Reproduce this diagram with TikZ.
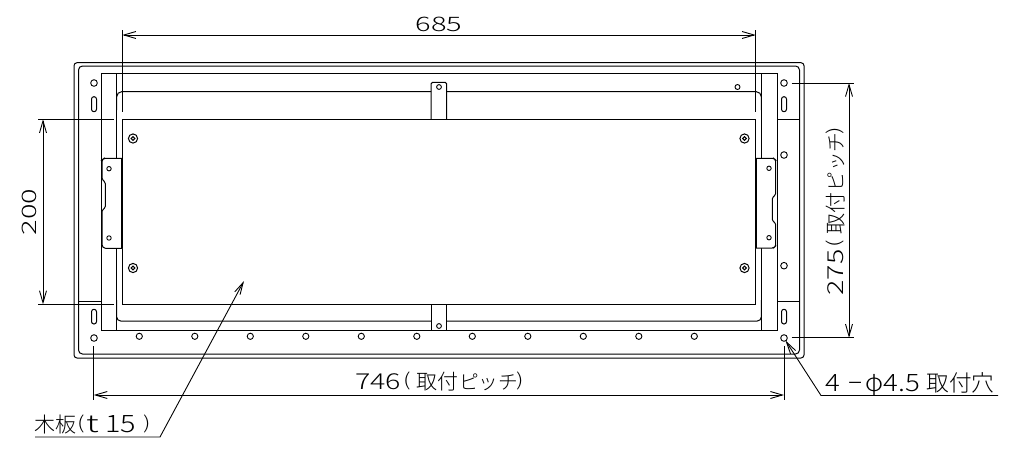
\documentclass[tikz,border=0pt]{standalone}
\usepackage{fontspec}
\usepackage{graphicx}
\usetikzlibrary{arrows.meta}
\newfontfamily\jp{Noto Sans CJK JP Light}
\newcommand{\fs}[1]{\fontsize{#1pt}{#1pt}\selectfont}
\newcommand{\pc}[2]{\makebox[#1pt][l]{#2}}
\newcommand{\digs}[3]{\fs{#1}\scalebox{#2}[1]{#3}}
\newcommand{\rw}[2]{\resizebox{#1pt}{!}{#2}}
\newcommand{\lp}{\raisebox{2.5pt}{\resizebox*{7.5pt}{18pt}{(}}}
\newcommand{\rp}{\raisebox{2.5pt}{\resizebox*{7.5pt}{18pt}{)}}}
\newcommand{\pitchlab}[1]{{\jp\pc{48}{\digs{22}{1.3}{#1}}\pc{13}{\lp}\pc{43}{\rw{42}{取付}}\pc{57}{\rw{59}{ピッチ}}\pc{8}{\rp}}}
\tikzset{
  part/.style={line width=1pt,black},
  dimen/.style={line width=.9pt,black,{Straight Barb[length=12pt,width=7pt]}-{Straight Barb[length=12pt,width=7pt]}},
  ext/.style={line width=.9pt,black},
  leader/.style={line width=.9pt,black,-{Straight Barb[length=12pt,width=6pt]}},
  lab/.style={inner sep=0pt,outer sep=0pt},
  hole/.style={line width=.9pt,black,fill=white}
}
\begin{document}
\begin{tikzpicture}[x=1pt,y=-1pt]
\useasboundingbox (0,0) rectangle (1017,450);
\fill[white] (0,0) rectangle (1017,450);
% outer frames
\draw[part,rounded corners=3pt] (74,62.7) rectangle (804,358);
\draw[part,rounded corners=4pt] (78.5,66) rectangle (799.5,354);
% inner frame
\draw[part] (101,73.7) rectangle (777,330.7);
\draw[part] (116.7,73.7) -- (116.7,158.3) (116.7,248.3) -- (116.7,330.7);
\draw[part] (761.3,73.7) -- (761.3,158.3) (761.3,248) -- (761.3,330.7);
% rounded inner plate edge
\draw[part,rounded corners=5pt] (431,91.7) -- (116.7,91.7) -- (116.7,110);
\draw[part,rounded corners=5pt] (446.7,91.7) -- (761.3,91.7) -- (761.3,110);
\draw[part,rounded corners=4pt] (116.7,300) -- (116.7,321) -- (431,321);
\draw[part,rounded corners=4pt] (761.3,300) -- (761.3,321) -- (446.7,321);
% wood board
\draw[part] (122.3,119.3) rectangle (755.7,304.3);
% side cross lines
\draw[part] (78.5,301.7) -- (101,301.7) (777,119.3) -- (799.5,119.3) (777,301.7) -- (799.5,301.7);
% top and bottom brackets
\draw[part,rounded corners=1.5pt] (431,119.3) -- (431,82.3) -- (446.7,82.3) -- (446.7,119.3);
\draw[part] (431,304.3) -- (431,330.7) -- (446.7,330.7) -- (446.7,304.3);
\draw[hole] (439,87) circle (2.4);
\draw[hole] (439,326) circle (2.4);
% left hinge
\draw[part,fill=white,rounded corners=1.5pt] (122.3,158.3) -- (104,158.3) -- (102,160) -- (102,179.5) -- (105.3,182) -- (105.3,208) -- (102,210) -- (102,246) -- (104,248.3) -- (122.3,248.3);
\draw[line width=1.6pt] (121.8,158.3) -- (121.8,248.3);
\draw[hole] (109,168.7) circle (2.2);
\draw[hole] (109,238) circle (2.2);
% right hinge
\draw[part,fill=white,rounded corners=1.5pt] (755.7,158.3) -- (773.7,158.3) -- (775.7,160) -- (775.7,195) -- (772.3,197.3) -- (772.3,221) -- (775.7,223) -- (775.7,246) -- (773.7,248) -- (755.7,248);
\draw[line width=1.6pt] (756.2,158.3) -- (756.2,248);
\draw[hole] (769,168.3) circle (2.2);
\draw[hole] (769,237.7) circle (2.2);
% corner holes and slots
\foreach \x in {94,784}{
  \draw[hole] (\x,83) circle (3.3);
  \draw[hole] (\x,338) circle (3.3);
  \draw[part,rounded corners=2.4pt] (\x-2.5,96.7) rectangle (\x+2.5,111.7);
  \draw[part,rounded corners=2.4pt] (\x-2.5,309.3) rectangle (\x+2.5,324);
}
\draw[hole] (784,155) circle (3.3);
\draw[hole] (784,265.7) circle (3.3);
\draw[hole] (737.5,87) circle (2.5);
% bottom row holes
\foreach \x in {139.3,194.8,250.3,305.8,361.3,416.8,472.3,527.8,583.3,638.8,694.3}
  \draw[hole] (\x,336.3) circle (3.1);
% board screws
\foreach \x in {133,744.5} \foreach \y in {138.5,268}{
  \draw[part] (\x,\y) circle (4.6);
  \draw[part] (\x,\y) circle (1.9);
}
% dimension 685
\coordinate (a1) at (122.3,30); \coordinate (a2) at (122.3,111.7);
\coordinate (b1) at (755.7,30); \coordinate (b2) at (755.7,111.7);
\draw[ext] (a1) -- (a2) (b1) -- (b2);
\draw[dimen] (122.3,35) -- (755.7,35);
\node[lab,anchor=base] (t685) at (439,31.5) {\jp\digs{20}{1.45}{685}};
% dimension 200
\coordinate (c1) at (38,119.3); \coordinate (c2) at (114,119.3);
\coordinate (d1) at (38,304.3); \coordinate (d2) at (114,304.3);
\draw[ext] (c1) -- (c2) (d1) -- (d2);
\draw[dimen] (43,119.3) -- (43,304.3);
\node[lab,rotate=90,anchor=base] (t200) at (36.5,212) {\jp\digs{20}{1.45}{200}};
% dimension 275
\coordinate (e1) at (791.7,83); \coordinate (e2) at (853.5,83);
\coordinate (f1) at (791.7,337.7); \coordinate (f2) at (853.5,337.7);
\draw[ext] (e1) -- (e2) (f1) -- (f2);
\draw[dimen] (849,83) -- (849,337.7);
\node[lab,rotate=90,anchor=base west] (t275) at (843,295.5) {\pitchlab{275}};
% dimension 746
\coordinate (g1) at (93.7,346); \coordinate (g2) at (93.7,400);
\coordinate (h1) at (784,346); \coordinate (h2) at (784,400);
\draw[ext] (g1) -- (g2) (h1) -- (h2);
\draw[dimen] (93.7,395) -- (784,395);
\node[lab,anchor=base west] (t746) at (355,389) {\pitchlab{746}};
% hole label
\coordinate (p1) at (998,395.5); \coordinate (p2) at (821,395.5); \coordinate (p3) at (785.5,340.5);
\draw[leader] (p1) -- (p2) -- (p3);
\node[lab,anchor=base west] (t46) at (825,391) {\jp\pc{22.5}{\digs{24}{1.15}{4}}\pc{18}{\raisebox{1.5pt}{\fs{24}\scalebox{2}[1]{-}}}\pc{18}{\rw{18}{φ}}\pc{43}{\digs{24}{1.15}{4.5}}\pc{65}{\rw{68}{取付穴}}};
% wood label
\coordinate (q1) at (35,437); \coordinate (q2) at (160,437); \coordinate (q3) at (244,281);
\draw[leader] (q1) -- (q2) -- (q3);
\node[lab,anchor=base west] (t15) at (34.5,432) {\jp\pc{43.5}{\rw{42}{木板}}\pc{8}{\lp}\pc{19}{\fs{24}\scalebox{1.5}[1]{t}}\pc{38}{\digs{24}{1.2}{15}}\pc{7}{\rp}};
\end{tikzpicture}
\end{document}
